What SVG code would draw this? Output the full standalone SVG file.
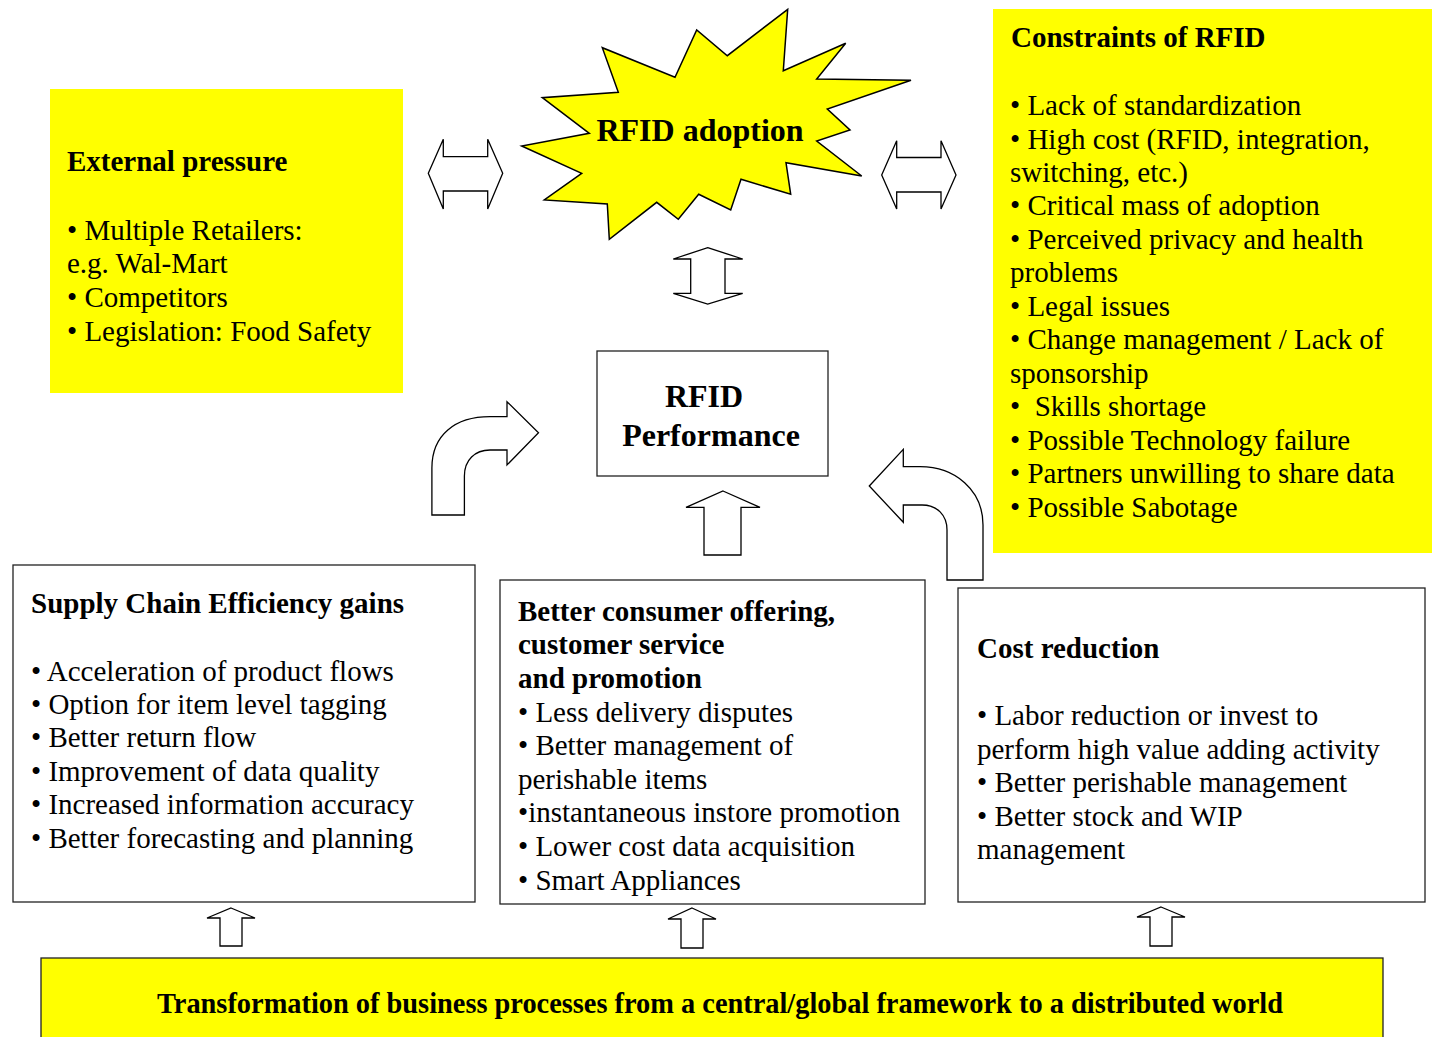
<svg xmlns="http://www.w3.org/2000/svg" width="1432" height="1037" viewBox="0 0 1432 1037">
<style>
.t{font-family:"Liberation Serif","Times New Roman",serif;font-size:29px;fill:#000}
.b{font-weight:bold}
.big{font-family:"Liberation Serif","Times New Roman",serif;font-size:32px;font-weight:bold;fill:#000}
.box{fill:#fff;stroke:#222;stroke-width:1.3}
.ybox{fill:#ffff00;stroke:none}
.arr{fill:#fff;stroke:#000;stroke-width:1.3;stroke-linejoin:miter}
</style>
<rect width="1432" height="1037" fill="#fff"/>

<g id="external-pressure">
<rect class="ybox" x="50" y="89" width="353" height="304"/>
<text class="t b" x="67" y="171">External pressure</text>
<text class="t" x="67" y="240">• Multiple Retailers:</text>
<text class="t" x="67" y="273">e.g. Wal-Mart</text>
<text class="t" x="67" y="307">• Competitors</text>
<text class="t" x="67" y="341">• Legislation: Food Safety</text>
</g>

<g id="rfid-adoption">
<polygon fill="#ffff00" stroke="#000" stroke-width="1.5" stroke-linejoin="miter" points="787.7,9.3 783.3,70.7 845.7,43.3 816.7,79 911,80.3 827.3,109 850,130 816.7,141 861.7,176 786,162.7 790.7,194.3 741,179.3 730.7,210 698.7,194.3 678.3,219.3 656.7,202.3 609.3,239.3 607.3,204 544.3,200 581.7,173.3 521.7,146 589.3,133.3 542.3,97.7 618.3,92.3 602.3,47.7 675,77.3 696.7,30 727.3,55.7"/>
<text class="big" x="700" y="141" text-anchor="middle">RFID adoption</text>
</g>

<g id="constraints">
<rect class="ybox" x="993" y="9" width="439" height="544"/>
<text class="t b" x="1011" y="47">Constraints of RFID</text>
<text class="t" x="1010" y="115">• Lack of standardization</text>
<text class="t" x="1010" y="149">• High cost (RFID, integration,</text>
<text class="t" x="1010" y="182">switching, etc.)</text>
<text class="t" x="1010" y="215">• Critical mass of adoption</text>
<text class="t" x="1010" y="249">• Perceived privacy and health</text>
<text class="t" x="1010" y="282">problems</text>
<text class="t" x="1010" y="316">• Legal issues</text>
<text class="t" x="1010" y="349">• Change management / Lack of</text>
<text class="t" x="1010" y="383">sponsorship</text>
<text class="t" x="1010" y="416" xml:space="preserve">•  Skills shortage</text>
<text class="t" x="1010" y="450">• Possible Technology failure</text>
<text class="t" x="1010" y="483">• Partners unwilling to share data</text>
<text class="t" x="1010" y="517">• Possible Sabotage</text>
</g>

<g id="rfid-performance">
<rect class="box" x="597" y="351" width="231" height="125"/>
<text class="big" x="704" y="407" text-anchor="middle">RFID</text>
<text class="big" x="711" y="446" text-anchor="middle">Performance</text>
</g>

<g id="supply-chain">
<rect class="box" x="13" y="565" width="462" height="337"/>
<text class="t b" x="31" y="613">Supply Chain Efficiency gains</text>
<text class="t" x="31" y="681">• Acceleration of product flows</text>
<text class="t" x="31" y="714">• Option for item level tagging</text>
<text class="t" x="31" y="747">• Better return flow</text>
<text class="t" x="31" y="781">• Improvement of data quality</text>
<text class="t" x="31" y="814">• Increased information accuracy</text>
<text class="t" x="31" y="848">• Better forecasting and planning</text>
</g>

<g id="consumer-offering">
<rect class="box" x="500" y="580" width="425" height="324"/>
<text class="t b" x="518" y="621">Better consumer offering,</text>
<text class="t b" x="518" y="654">customer service</text>
<text class="t b" x="518" y="688">and promotion</text>
<text class="t" x="518" y="722">• Less delivery disputes</text>
<text class="t" x="518" y="755">• Better management of</text>
<text class="t" x="518" y="789">perishable items</text>
<text class="t" x="518" y="822">•instantaneous instore promotion</text>
<text class="t" x="518" y="856">• Lower cost data acquisition</text>
<text class="t" x="518" y="890">• Smart Appliances</text>
</g>

<g id="cost-reduction">
<rect class="box" x="958" y="588" width="467" height="314"/>
<text class="t b" x="977" y="658">Cost reduction</text>
<text class="t" x="977" y="725">• Labor reduction or invest to</text>
<text class="t" x="977" y="759">perform high value adding activity</text>
<text class="t" x="977" y="792">• Better perishable management</text>
<text class="t" x="977" y="826">• Better stock and WIP</text>
<text class="t" x="977" y="859">management</text>
</g>

<g id="transformation">
<rect x="41" y="958" width="1342" height="90" fill="#ffff00" stroke="#222" stroke-width="1.3"/>
<text class="t b" x="157" y="1013" font-size="29" textLength="1126" lengthAdjust="spacingAndGlyphs">Transformation of business processes from a central/global framework to a distributed world</text>
</g>

<g id="connectors">
<polygon class="arr" points="428.3,173.3 443.3,139.3 443.3,156.7 487.7,156.7 487.7,139.3 502.7,173.3 487.7,209 487.7,191 443.3,191 443.3,209"/>
<polygon class="arr" points="881.7,175 896.7,140.7 896.7,157.5 941,157.5 941,140.7 956,175 941,209 941,192 896.7,192 896.7,209"/>
<polygon class="arr" points="707.7,247.7 742.7,259 725,259 725,293.3 742.7,293.3 707.7,304 673.3,293.3 690.7,293.3 690.7,259 673.3,259"/>
<path class="arr" d="M431.9,515 L431.9,468 C431.9,435 455,416.7 490,416.7 L507,416.7 L507,401.7 L538.5,432.7 L507,465 L507,450 L490,450 C475,450 464.4,460 464.4,476 L464.4,515 Z"/>
<path class="arr" d="M869.3,486 L903.3,449.3 L903.3,466.7 L920,466.7 C955,466.7 983,490 983,525 L983,580 L947,580 L947,530 C947,515 937,505 922,505 L903.3,505 L903.3,522.3 Z"/>
<polygon class="arr" points="723,491 760,507.3 741,507.3 741,555 704,555 704,507.3 686,507.3"/>
<polygon class="arr" points="231,908 255,918 242,918 242,946 220,946 220,918 207,918"/>
<polygon class="arr" points="692,908 716,919 703,919 703,948 681,948 681,919 668,919"/>
<polygon class="arr" points="1161,907 1185,917 1172,917 1172,946 1150,946 1150,917 1137,917"/>
</g>
</svg>
